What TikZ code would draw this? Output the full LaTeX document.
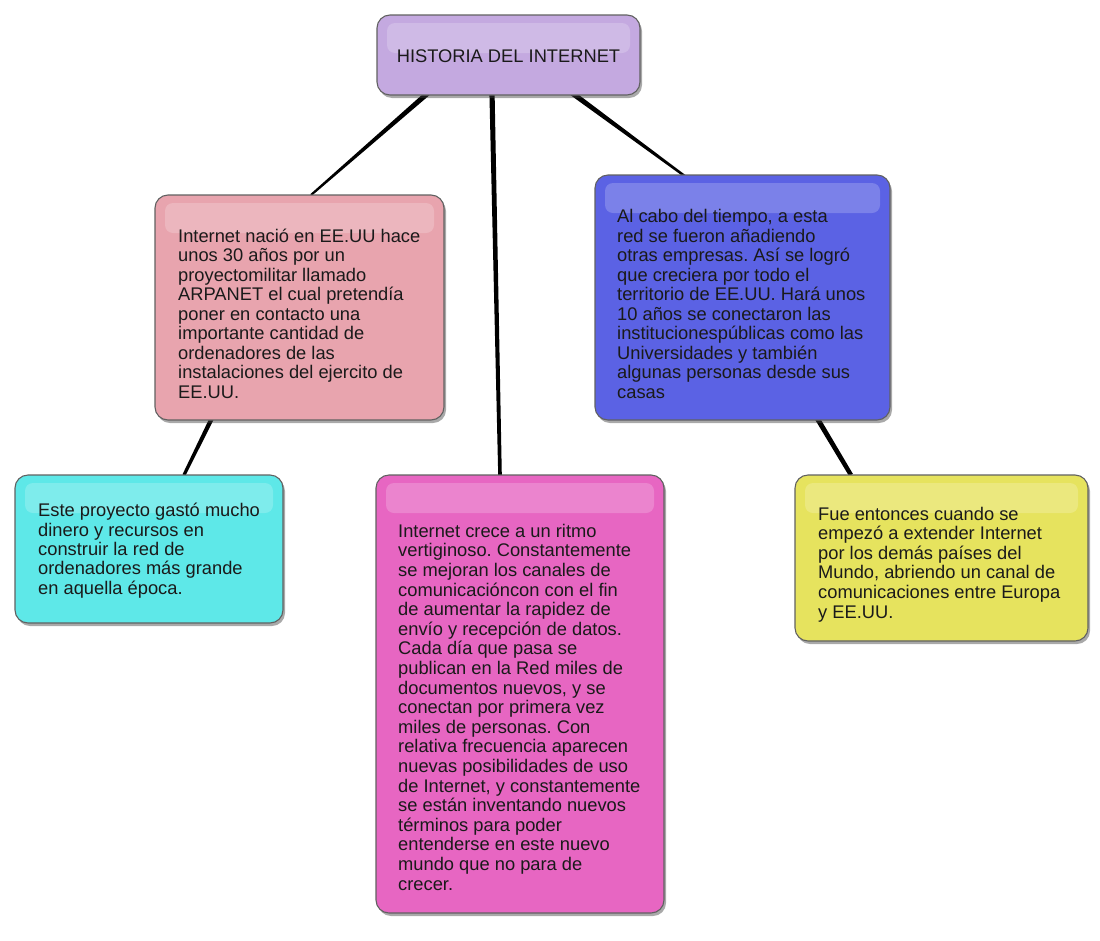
\documentclass[tikz,border=0pt]{standalone}
\usepackage{fontspec}
\setmainfont{Liberation Sans}
\frenchspacing
\usetikzlibrary{calc,shadows,backgrounds}
\definecolor{cTitle}{HTML}{C4A9E0}
\definecolor{cPink}{HTML}{E8A4AE}
\definecolor{cBlue}{HTML}{5B62E4}
\definecolor{cCyan}{HTML}{5EE8E8}
\definecolor{cMag}{HTML}{E766C2}
\definecolor{cYel}{HTML}{E6E35E}
\definecolor{cText}{HTML}{1A1A1A}
\tikzset{
  boxshape/.style={draw=black!62, line width=1.1pt, rounded corners=13pt,
    drop shadow={shadow xshift=2pt, shadow yshift=-3pt, opacity=.45, fill=black!75},
    inner sep=0pt, outer sep=0pt, anchor=north west},
  btext/.style={anchor=base west, align=left, inner sep=0pt, text=cText,
    font=\fontsize{18.3}{19.5}\selectfont},
  gloss/.style={fill=white, fill opacity=.2, rounded corners=8pt},
  conn/.style={fill=black},
}
\newcommand\taper[4]{%
  \fill[conn] ($(#1)!#3!90:(#2)$) -- ($(#1)!#3!-90:(#2)$) -- ($(#2)!#4!90:(#1)$) -- ($(#2)!#4!-90:(#1)$) -- cycle;}
\begin{document}
\begin{tikzpicture}[x=1pt,y=-1pt]
\useasboundingbox (0,0) rectangle (1100,940);
% boxes
\node[boxshape, fill=cTitle, minimum width=263, minimum height=80] (title) at (377,15) {};
\node[boxshape, fill=cPink, minimum width=289, minimum height=225] (pink) at (155,195) {};
\node[boxshape, fill=cBlue, minimum width=295, minimum height=245] (blue) at (595,175) {};
\node[boxshape, fill=cCyan, minimum width=268, minimum height=148] (cyan) at (15,475) {};
\node[boxshape, fill=cMag, minimum width=288, minimum height=438] (mag) at (376,475) {};
\node[boxshape, fill=cYel, minimum width=293, minimum height=166] (yel) at (795,475) {};
% gloss bands
\foreach \b in {title,pink,blue,cyan,mag,yel}{
  \fill[gloss] ($(\b.north west)+(10,8)$) rectangle ($(\b.north east)+(-10,38)$);
}
% texts (base anchor = baseline of the last line)
\node[anchor=base, inner sep=0pt, text=cText, font=\fontsize{18.3}{19.5}\selectfont] (titletxt)
  at ($(title.north)+(0,47)$) {HISTORIA DEL INTERNET};
\node[btext] (pinktxt) at ($(pink.north west)+(23,203)$) {Internet nació en EE.UU hace\\unos 30 años por un\\proyectomilitar llamado\\ARPANET el cual pretendía\\poner en contacto una\\importante cantidad de\\ordenadores de las\\instalaciones del ejercito de\\EE.UU.};
\node[btext] (bluetxt) at ($(blue.north west)+(22,223)$) {Al cabo del tiempo, a esta\\red se fueron añadiendo\\otras empresas. Así se logró\\que creciera por todo el\\territorio de EE.UU. Hará unos\\10 años se conectaron las\\institucionespúblicas como las\\Universidades y también\\algunas personas desde sus\\casas};
\node[btext, font=\fontsize{18.3}{19.3}\selectfont] (cyantxt) at ($(cyan.north west)+(23,119)$) {Este proyecto gastó mucho\\dinero y recursos en\\construir la red de\\ordenadores más grande\\en aquella época.};
\node[btext, font=\fontsize{18.3}{19.6}\selectfont] (magtxt) at ($(mag.north west)+(22,415)$) {Internet crece a un ritmo\\vertiginoso. Constantemente\\se mejoran los canales de\\comunicacióncon con el fin\\de aumentar la rapidez de\\envío y recepción de datos.\\Cada día que pasa se\\publican en la Red miles de\\documentos nuevos, y se\\conectan por primera vez\\miles de personas. Con\\relativa frecuencia aparecen\\nuevas posibilidades de uso\\de Internet, y constantemente\\se están inventando nuevos\\términos para poder\\entenderse en este nuevo\\mundo que no para de\\crecer.};
\node[btext, font=\fontsize{18.3}{19.6}\selectfont] (yeltxt) at ($(yel.north west)+(23,143)$) {Fue entonces cuando se\\empezó a extender Internet\\por los demás países del\\Mundo, abriendo un canal de\\comunicaciones entre Europa\\y EE.UU.};
% connector end points
\coordinate (t1) at ($(title.south west)+(51,-2)$);
\coordinate (t2) at ($(title.south west)+(115,-2)$);
\coordinate (t3) at ($(title.south west)+(195,-2)$);
\coordinate (p1) at ($(pink.north west)+(156,0)$);
\coordinate (m1) at ($(mag.north west)+(124,0)$);
\coordinate (b1) at ($(blue.north west)+(91,2)$);
\coordinate (p2) at ($(pink.south west)+(57,-2)$);
\coordinate (c1) at ($(cyan.north west)+(169,0)$);
\coordinate (b2) at ($(blue.south west)+(222,-2)$);
\coordinate (y1) at ($(yel.north west)+(56,0)$);
\begin{pgfonlayer}{background}
\taper{t1}{p1}{2.6pt}{1.1pt}
\taper{t2}{m1}{2.6pt}{1.8pt}
\taper{t3}{b1}{2.6pt}{1.2pt}
\taper{p2}{c1}{2.2pt}{1.6pt}
\taper{b2}{y1}{2.5pt}{2.2pt}
\end{pgfonlayer}
\end{tikzpicture}
\end{document}
